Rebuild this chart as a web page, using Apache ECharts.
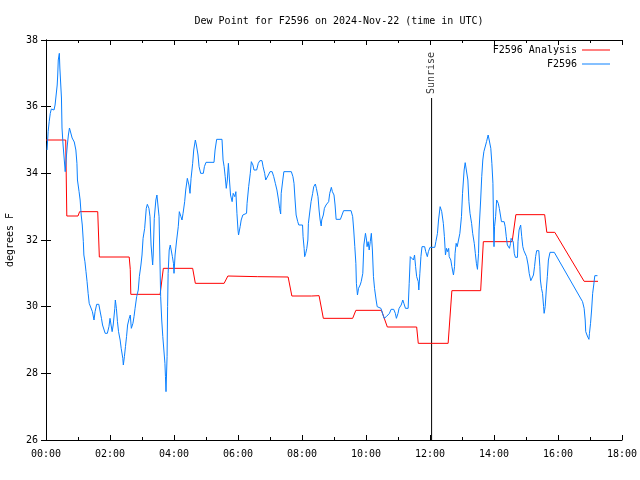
<!DOCTYPE html>
<html>
<head>
<meta charset="utf-8">
<script src="https://cdn.jsdelivr.net/npm/echarts@6/dist/echarts.min.js"></script>
<style>
html,body{margin:0;padding:0;background:#fff;}
#chart{width:640px;height:480px;}
</style>
</head>
<body>
<div id="chart"></div>
<script>
// ---- data (time in minutes after 00:00 UTC, dew point in degrees F) ----
var titleText = 'Dew Point for F2596 on 2024-Nov-22 (time in UTC)';
var seriesNames = ['F2596 Analysis', 'F2596'];
var yTicks = [26, 28, 30, 32, 34, 36, 38];
var xTickLabels = ['00:00','02:00','04:00','06:00','08:00','10:00','12:00','14:00','16:00','18:00'];
var sunriseTime = 723;
var sunriseTop = 36.26;

var analysisReadings = [
  [0,35.0],[37,35.0],[39,32.72],[60,32.72],[63,32.85],[97,32.85],[100,31.49],[156,31.49],[158,31.12],[159,30.37],
  [214,30.37],[220,31.15],[275,31.15],[280,30.7],[334,30.7],[341,30.92],[397,30.9],[454,30.89],[461,30.32],[498,30.32],
  [501,30.35],[512,30.33],[520,29.65],[575,29.65],[581,29.89],[629,29.89],[640,29.39],[695,29.39],[698,28.9],[754,28.9],
  [761,30.48],[815,30.48],[820,31.95],[874,31.95],[881,32.76],[935,32.76],[939,32.23],[954,32.23],[1009,30.76],[1035,30.76]
];

var stationReadings = [
  [2,34.7],[4,35.25],[6,35.55],[8,35.8],[10,35.93],[15,35.9],[17,36.05],[19,36.35],[21,36.65],[22,36.95],
  [23,37.4],[25,37.6],[26,37.16],[29,36.26],[30,35.36],[32,34.85],[34,34.46],[36,34.05],[38,34.46],[40,34.85],
  [42,35.15],[44,35.36],[46,35.24],[49,35.06],[53,34.94],[56,34.7],[58,34.3],[59,33.8],[62,33.45],[64,33.2],
  [66,32.75],[68,32.45],[70,31.95],[71,31.55],[73,31.35],[75,31.05],[77,30.75],[79,30.4],[81,30.1],[84,30.1],
  [87,29.85],[90,29.6],[92,29.85],[95,30.07],[99,30.07],[101,29.9],[104,29.65],[106,29.45],[109,29.3],[111,29.2],
  [115,29.2],[118,29.4],[120,29.65],[122,29.45],[124,29.25],[126,29.45],[129,29.95],[130,30.2],[132,29.95],[134,29.55],
  [136,29.25],[139,29.0],[141,28.75],[144,28.45],[145,28.25],[147,28.5],[149,28.8],[151,29.1],[153,29.45],[156,29.65],
  [158,29.75],[160,29.35],[163,29.5],[165,29.7],[167,29.95],[170,30.3],[173,30.5],[175,30.9],[178,31.25],[180,31.55],
  [182,32.05],[185,32.35],[188,32.95],[190,33.07],[193,32.95],[195,32.7],[197,31.85],[200,31.25],[201,31.55],[203,32.65],
  [206,33.2],[208,33.35],[210,33.4],[212,32.7],[214,31.1],[215,30.3],[217,29.6],[219,29.1],[221,28.7],[223,28.3],
  [224,27.9],[225,27.45],[227,28.5],[228,30.0],[229,31.0],[231,31.7],[233,31.85],[235,31.9],[237,31.5],[239,31.3],
  [240,31.0],[242,31.55],[245,32.0],[248,32.4],[250,32.85],[253,32.7],[255,32.6],[257,32.8],[260,33.15],[262,33.5],
  [265,33.85],[268,33.65],[270,33.4],[272,33.85],[275,34.3],[277,34.7],[280,35.0],[282,34.85],[285,34.55],[287,34.2],
  [290,34.0],[295,34.0],[297,34.2],[300,34.33],[315,34.33],[317,34.7],[320,35.02],[330,35.02],[332,34.4],[334,34.2],
  [336,33.9],[338,33.55],[340,33.8],[342,34.3],[344,33.8],[346,33.35],[349,33.15],[351,33.4],[354,33.3],[356,33.45],
  [358,32.8],[360,32.3],[361,32.15],[364,32.4],[366,32.6],[369,32.75],[376,32.8],[377,33.1],[380,33.6],[383,34.0],
  [385,34.35],[388,34.25],[390,34.1],[395,34.1],[398,34.3],[401,34.38],[405,34.38],[407,34.2],[410,34.0],[412,33.8],
  [415,33.75],[417,33.95],[420,34.05],[424,34.05],[427,33.9],[430,33.7],[433,33.5],[436,33.2],[438,32.95],[440,32.78],
  [441,33.4],[444,33.8],[446,34.05],[460,34.05],[463,33.9],[465,33.7],[467,33.2],[469,32.75],[472,32.55],[474,32.45],
  [481,32.45],[482,32.1],[484,31.75],[485,31.5],[487,31.6],[489,31.75],[491,32.0],[492,32.5],[495,32.9],[497,33.15],
  [500,33.4],[502,33.6],[505,33.68],[507,33.55],[510,33.3],[512,32.9],[514,32.6],[516,32.42],[517,32.6],[520,32.75],
  [522,32.95],[525,33.05],[527,33.05],[530,33.15],[532,33.4],[535,33.58],[537,33.45],[540,33.35],[542,33.05],[544,32.62],
  [552,32.62],[555,32.75],[558,32.88],[572,32.88],[575,32.7],[577,32.3],[579,31.8],[581,31.3],[582,30.7],[584,30.35],
  [586,30.55],[589,30.65],[591,30.75],[594,31.0],[596,31.85],[599,32.2],[601,32.0],[602,31.8],[604,31.95],[606,31.7],
  [608,31.95],[610,32.2],[612,31.7],[614,30.9],[616,30.55],[619,30.2],[621,30.0],[628,29.95],[630,29.9],[634,29.65],
  [638,29.7],[641,29.7],[644,29.8],[647,29.92],[652,29.92],[655,29.8],[657,29.65],[660,29.8],[662,29.95],[666,30.05],
  [669,30.2],[671,30.1],[674,29.95],[679,29.95],[681,30.7],[683,31.5],[686,31.52],[689,31.4],[691,31.55],[693,31.2],
  [695,30.9],[698,30.75],[699,30.5],[701,31.0],[703,31.5],[705,31.8],[710,31.8],[712,31.65],[715,31.5],[717,31.65],
  [720,31.78],[729,31.78],[731,31.95],[734,32.2],[736,32.6],[739,33.0],[741,32.95],[742,32.85],[745,32.5],[747,32.1],
  [749,31.55],[751,31.75],[753,31.65],[755,31.75],[756,31.5],[759,31.4],[761,31.2],[764,30.95],[766,31.2],[767,31.6],
  [769,31.9],[771,31.8],[774,31.85],[776,32.2],[779,32.7],[781,33.4],[784,34.1],[786,34.32],[789,34.36],[791,33.8],
  [793,33.15],[795,32.8],[798,32.5],[800,32.2],[803,31.9],[805,31.6],[807,31.3],[809,31.12],[811,31.6],[812,32.3],
  [815,33.2],[817,33.9],[819,34.4],[821,34.65],[822,34.6],[824,34.7],[826,34.95],[829,35.15],[831,35.0],[834,34.75],
  [836,34.3],[838,33.7],[839,32.6],[840,31.8],[841,32.4],[843,32.7],[845,33.2],[848,33.1],[850,32.95],[852,32.75],
  [854,32.55],[859,32.55],[861,32.4],[863,32.1],[865,31.85],[869,31.75],[871,31.9],[872,32.05],[874,32.1],[876,31.95],
  [878,31.6],[880,31.48],[884,31.48],[885,31.95],[887,32.3],[890,32.45],[892,32.1],[894,31.8],[896,31.68],[899,31.68],
  [901,31.5],[904,31.25],[906,31.0],[909,30.78],[912,30.78],[914,30.95],[916,31.2],[918,31.5],[920,31.68],[924,31.68],
  [926,31.2],[927,30.8],[929,30.55],[931,30.4],[933,30.0],[934,29.8],[936,30.0],[938,30.5],[940,30.9],[942,31.4],
  [945,31.63],[953,31.63],[1006,30.15],[1009,29.95],[1011,29.6],[1012,29.25],[1015,29.12],[1018,29.02],[1019,29.2],[1021,29.5],
  [1023,29.9],[1025,30.4],[1027,30.65],[1029,30.93],[1034,30.93]
];

// ---- chart ----
var FONT = 'DejaVu Sans Mono';
var chart = echarts.init(document.getElementById('chart'), null, {renderer: 'canvas'});

function fmtTime(v) {
  var idx = Math.round(v / 120);
  return xTickLabels[idx] !== undefined ? xTickLabels[idx] : '';
}

var axisLineStyle = {show: true, lineStyle: {color: '#000', width: 1}};

function xAxisCfg(pos, showLabels) {
  return {
    type: 'value', position: pos, min: 0, max: 1080, interval: 120,
    axisLine: axisLineStyle,
    axisTick: {show: true, inside: true, length: 5, lineStyle: {color: '#000'}},
    minorTick: {show: true, splitNumber: 2, length: 3, lineStyle: {color: '#000'}},
    splitLine: {show: false}, minorSplitLine: {show: false},
    axisLabel: {show: showLabels, formatter: fmtTime, margin: 9, color: '#000', fontFamily: FONT, fontSize: 10}
  };
}
function yAxisCfg(pos, showLabels) {
  var c = {
    type: 'value', position: pos, min: yTicks[0], max: yTicks[yTicks.length - 1], interval: 2,
    axisLine: axisLineStyle,
    axisTick: {show: true, inside: true, length: 5, lineStyle: {color: '#000'}},
    splitLine: {show: false},
    axisLabel: {show: showLabels, margin: 8, color: '#000', fontFamily: FONT, fontSize: 10}
  };
  if (showLabels) {
    c.name = 'degrees F';
    c.nameLocation = 'middle';
    c.nameGap = 31;
    c.nameRotate = 90;
    c.nameTextStyle = {color: '#000', fontFamily: FONT, fontSize: 10};
  }
  return c;
}

chart.setOption({
  animation: false,
  backgroundColor: '#fff',
  title: {
    text: titleText, left: 334, top: 11, textAlign: 'center',
    textStyle: {color: '#000', fontFamily: FONT, fontSize: 10, fontWeight: 'normal'}
  },
  legend: {
    orient: 'vertical', right: 30, top: 44, align: 'right', padding: 0,
    icon: 'rect', itemWidth: 28, itemHeight: 1, itemGap: 2,
    data: seriesNames,
    textStyle: {color: '#000', fontFamily: FONT, fontSize: 10, lineHeight: 12}
  },
  grid: {left: 46, right: 18, top: 40, bottom: 40, containLabel: false, outerBoundsMode: 'none'},
  xAxis: [xAxisCfg('bottom', true), xAxisCfg('top', false)],
  yAxis: [yAxisCfg('left', true), yAxisCfg('right', false)],
  series: [
    {
      name: seriesNames[0], type: 'line', data: analysisReadings,
      symbol: 'none', color: '#ff0000', lineStyle: {color: '#ff0000', width: 1}, z: 3
    },
    {
      name: seriesNames[1], type: 'line', data: stationReadings,
      symbol: 'none', color: '#0a80ff', lineStyle: {color: '#0a80ff', width: 1}, z: 4
    },
    {
      name: 'Sunrise', type: 'line', data: [[sunriseTime, yTicks[0]], [sunriseTime, sunriseTop]],
      symbol: 'none', lineStyle: {color: '#000', width: 1}, z: 2, silent: true
    },
    {
      name: 'SunriseLabel', type: 'scatter', data: [[sunriseTime, sunriseTop]],
      symbolSize: 0, silent: true,
      label: {
        show: true, formatter: 'Sunrise', position: 'top', distance: 4, rotate: 90,
        align: 'left', verticalAlign: 'middle',
        color: '#000', fontFamily: FONT, fontSize: 10
      }
    }
  ]
});
</script>
</body>
</html>
